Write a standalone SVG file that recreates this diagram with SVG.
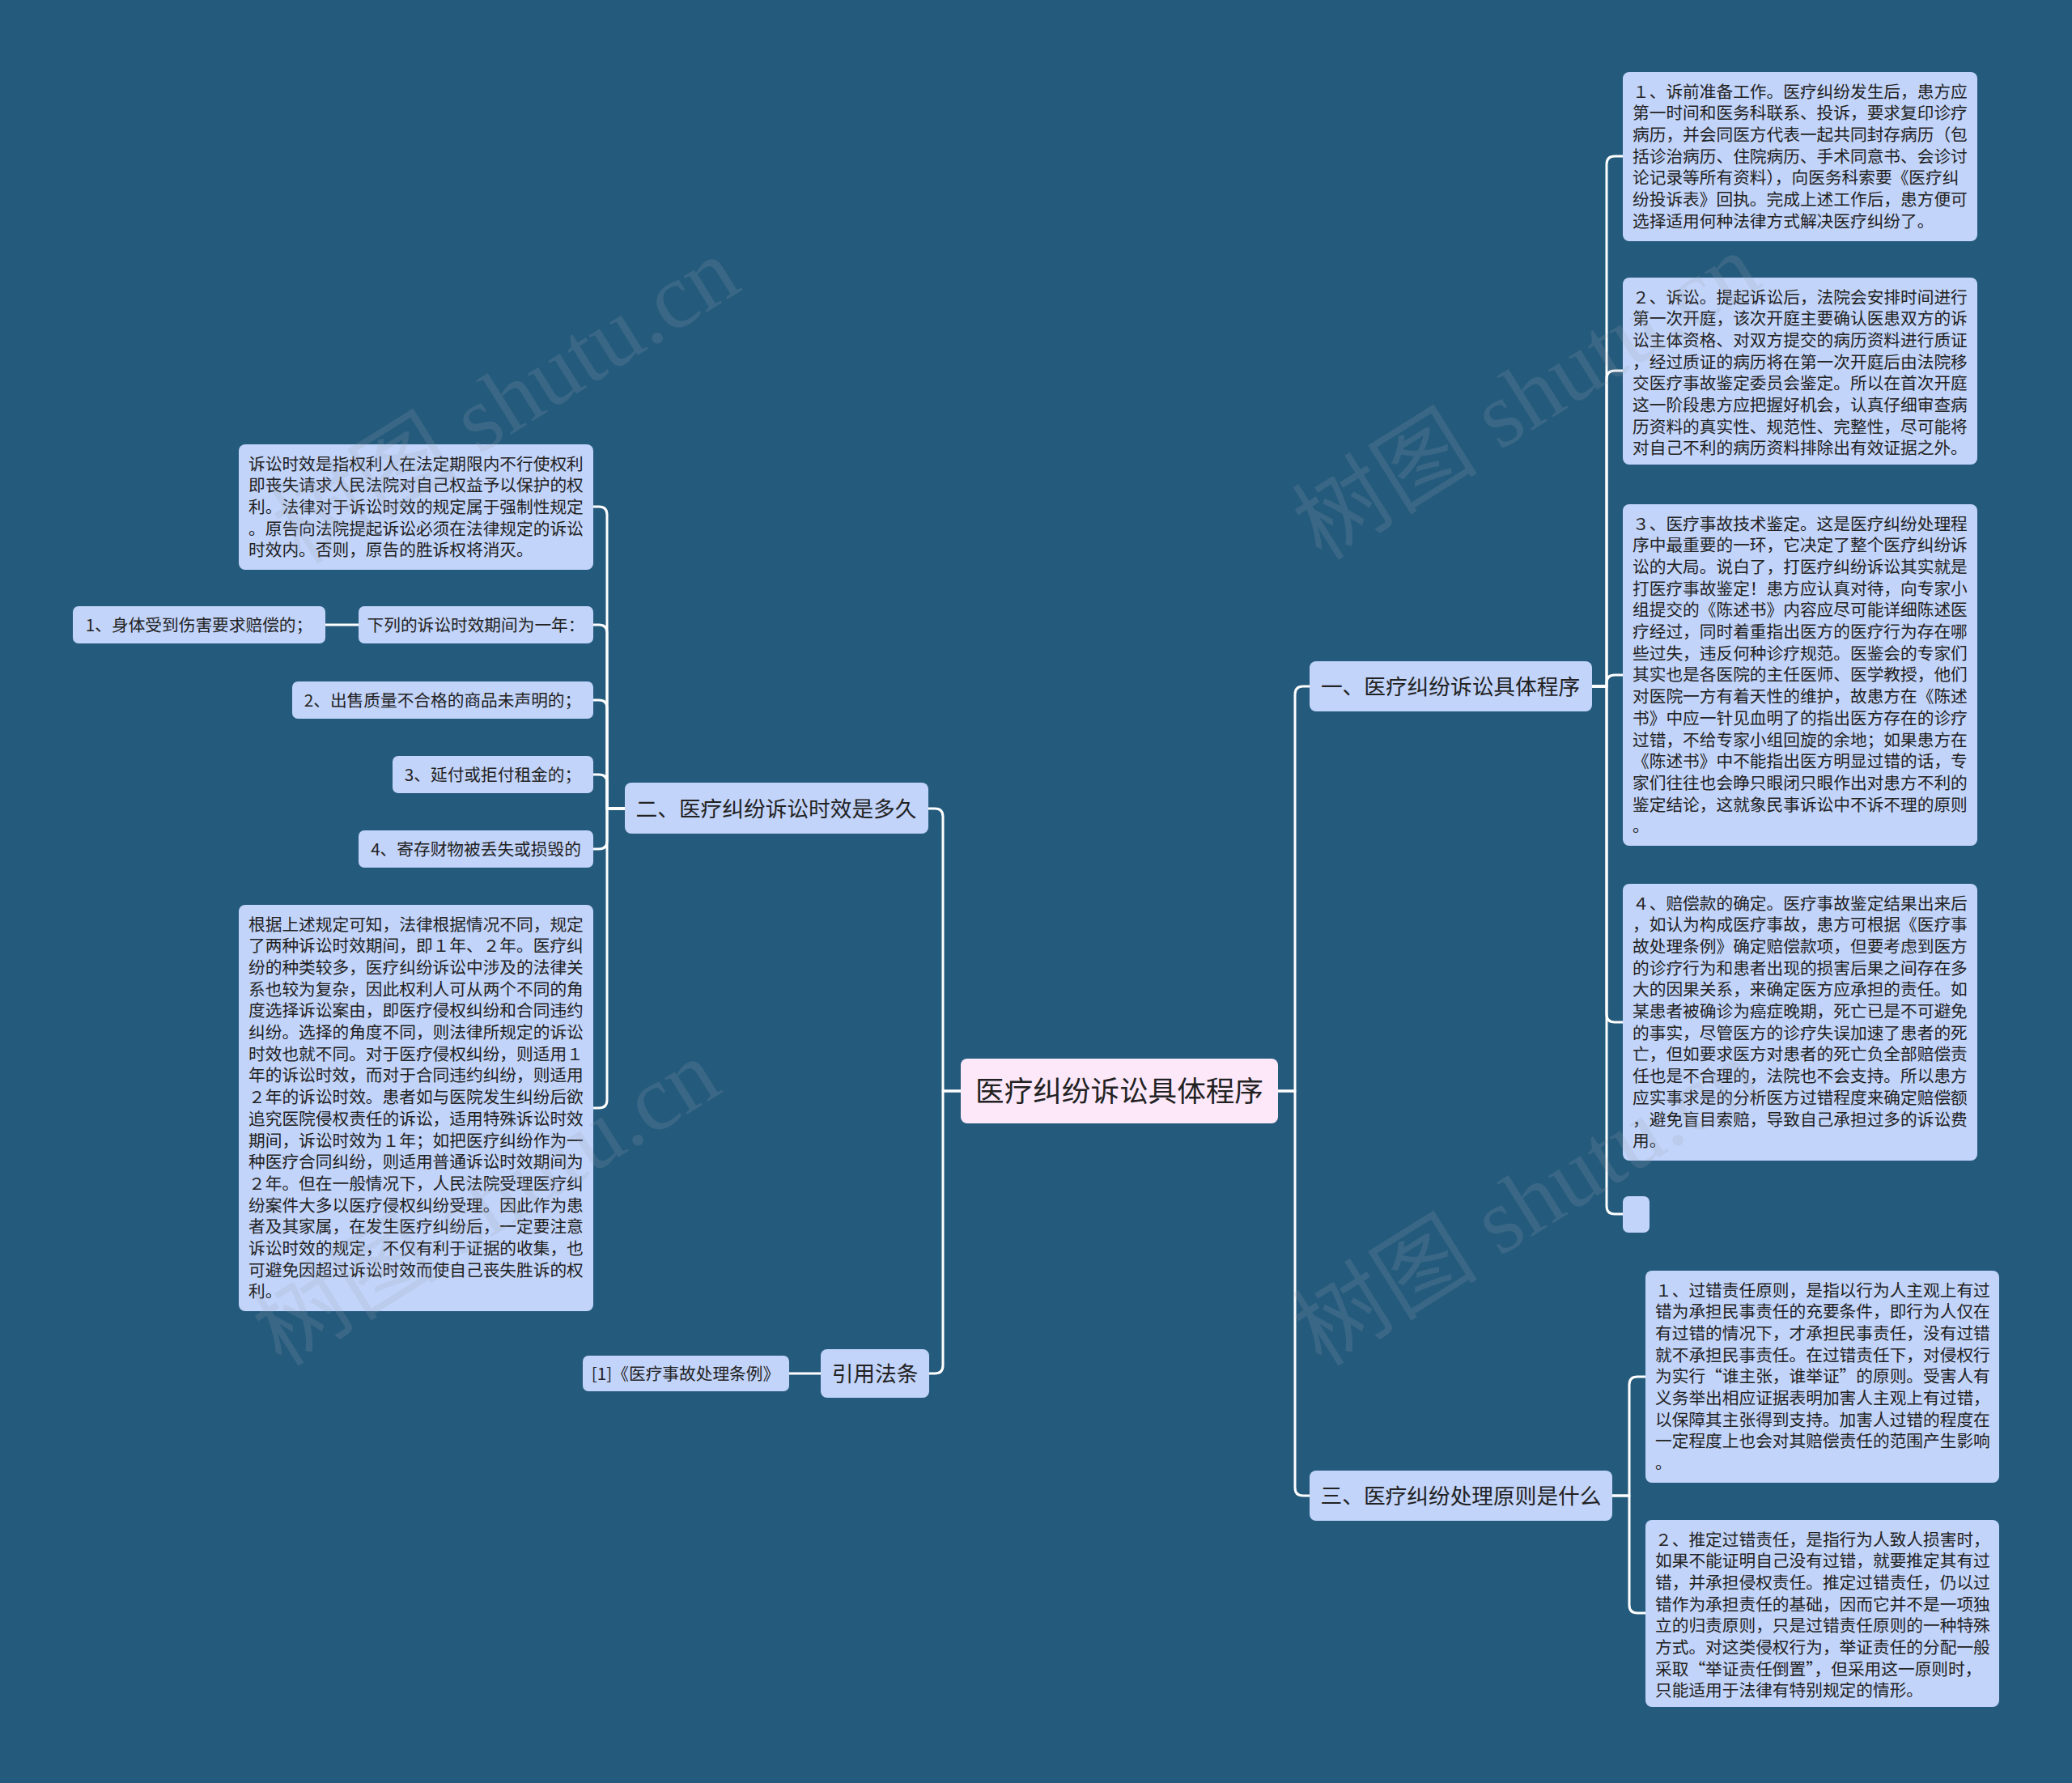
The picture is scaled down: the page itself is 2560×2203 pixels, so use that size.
<svg xmlns="http://www.w3.org/2000/svg" width="2560" height="2203" viewBox="0 0 2560 2203">
<style>
.bg{fill:#245a7c}
.n{fill:#c2d4fa}
.c{fill:#fde8fa}
.t{font-family:"Noto Sans CJK SC","Noto Sans",sans-serif;font-size:20.7px;fill:#222}
.tm{font-family:"Noto Sans CJK SC","Noto Sans",sans-serif;font-size:26.7px;fill:#222;text-anchor:middle}
.ts{font-family:"Noto Sans CJK SC","Noto Sans",sans-serif;font-size:20.7px;fill:#222;text-anchor:middle}
.tc{font-family:"Noto Sans CJK SC","Noto Sans",sans-serif;font-size:35.6px;fill:#222;text-anchor:middle}
.l{fill:none;stroke:#ffffff;stroke-width:3;stroke-linejoin:round}
.wm{font-family:"Liberation Serif","Noto Sans CJK SC",serif;font-size:115px;fill:#9aa4ae;opacity:0.18}
</style>
<rect class="bg" x="0" y="0" width="2560" height="2203"/>
<g id="connectors">
<path class="l" d="M1579,1348 H1600 V858 Q1600,848 1610,848 H1618"/>
<path class="l" d="M1579,1348 H1600 V1838 Q1600,1848 1610,1848 H1618"/>
<path class="l" d="M1187,1348 H1165 V1009 Q1165,999 1155,999 H1147"/>
<path class="l" d="M1187,1348 H1165 V1687 Q1165,1697 1155,1697 H1148"/>
<path class="l" d="M1967,848 H1985 V203 Q1985,193 1995,193 H2005"/>
<path class="l" d="M1967,848 H1985 V468 Q1985,458 1995,458 H2005"/>
<path class="l" d="M1967,848 H1985 V844 Q1985,834 1995,834 H2005"/>
<path class="l" d="M1967,848 H1985 V1253 Q1985,1263 1995,1263 H2005"/>
<path class="l" d="M1967,848 H1985 V1490 Q1985,1500 1995,1500 H2005"/>
<path class="l" d="M1992,1848 H2013 V1711 Q2013,1701 2023,1701 H2033"/>
<path class="l" d="M1992,1848 H2013 V1983 Q2013,1993 2023,1993 H2033"/>
<path class="l" d="M772,999 H750 V636 Q750,626 740,626 H733"/>
<path class="l" d="M772,999 H750 V782 Q750,772 740,772 H733"/>
<path class="l" d="M772,999 H750 V875 Q750,865 740,865 H733"/>
<path class="l" d="M772,999 H750 V967 Q750,957 740,957 H733"/>
<path class="l" d="M772,999 H750 V1039 Q750,1049 740,1049 H733"/>
<path class="l" d="M772,999 H750 V1359 Q750,1369 740,1369 H733"/>
<path class="l" d="M443,772 H402"/>
<path class="l" d="M1014,1697 H975"/>
</g>
<g id="center">
<rect class="c" x="1187" y="1308" width="392" height="80" rx="8"/>
<text class="tc" x="1383" y="1361">医疗纠纷诉讼具体程序</text>
</g>
<g id="b1">
<rect class="n" x="1618" y="817" width="349" height="62" rx="8"/>
<text class="tm" x="1792" y="858">一、医疗纠纷诉讼具体程序</text>
</g>
<g id="b3">
<rect class="n" x="1618" y="1817" width="374" height="62" rx="8"/>
<text class="tm" x="1805" y="1858">三、医疗纠纷处理原则是什么</text>
</g>
<g id="b2">
<rect class="n" x="772" y="967" width="375" height="63" rx="8"/>
<text class="tm" x="959" y="1009">二、医疗纠纷诉讼时效是多久</text>
</g>
<g id="b4">
<rect class="n" x="1014" y="1667" width="134" height="60" rx="8"/>
<text class="tm" x="1081" y="1707">引用法条</text>
</g>
<g id="cite">
<rect class="n" x="720" y="1675" width="255" height="44" rx="7"/>
<text class="ts" x="847" y="1705">[1]《医疗事故处理条例》</text>
</g>
<g id="r1">
<rect class="n" x="2005" y="89" width="438" height="209" rx="8"/>
<text class="t" x="2017" y="120.8">
<tspan x="2017" dy="0">１、诉前准备工作。医疗纠纷发生后，患方应</tspan>
<tspan x="2017" dy="26.67">第一时间和医务科联系、投诉，要求复印诊疗</tspan>
<tspan x="2017" dy="26.67">病历，并会同医方代表一起共同封存病历（包</tspan>
<tspan x="2017" dy="26.67">括诊治病历、住院病历、手术同意书、会诊讨</tspan>
<tspan x="2017" dy="26.67">论记录等所有资料），向医务科索要《医疗纠</tspan>
<tspan x="2017" dy="26.67">纷投诉表》回执。完成上述工作后，患方便可</tspan>
<tspan x="2017" dy="26.67">选择适用何种法律方式解决医疗纠纷了。</tspan>
</text>
</g>
<g id="r2">
<rect class="n" x="2005" y="343" width="438" height="231" rx="8"/>
<text class="t" x="2017" y="374.8">
<tspan x="2017" dy="0">２、诉讼。提起诉讼后，法院会安排时间进行</tspan>
<tspan x="2017" dy="26.67">第一次开庭，该次开庭主要确认医患双方的诉</tspan>
<tspan x="2017" dy="26.67">讼主体资格、对双方提交的病历资料进行质证</tspan>
<tspan x="2017" dy="26.67">，经过质证的病历将在第一次开庭后由法院移</tspan>
<tspan x="2017" dy="26.67">交医疗事故鉴定委员会鉴定。所以在首次开庭</tspan>
<tspan x="2017" dy="26.67">这一阶段患方应把握好机会，认真仔细审查病</tspan>
<tspan x="2017" dy="26.67">历资料的真实性、规范性、完整性，尽可能将</tspan>
<tspan x="2017" dy="26.67">对自己不利的病历资料排除出有效证据之外。</tspan>
</text>
</g>
<g id="r3">
<rect class="n" x="2005" y="623" width="438" height="422" rx="8"/>
<text class="t" x="2017" y="654.8">
<tspan x="2017" dy="0">３、医疗事故技术鉴定。这是医疗纠纷处理程</tspan>
<tspan x="2017" dy="26.67">序中最重要的一环，它决定了整个医疗纠纷诉</tspan>
<tspan x="2017" dy="26.67">讼的大局。说白了，打医疗纠纷诉讼其实就是</tspan>
<tspan x="2017" dy="26.67">打医疗事故鉴定！患方应认真对待，向专家小</tspan>
<tspan x="2017" dy="26.67">组提交的《陈述书》内容应尽可能详细陈述医</tspan>
<tspan x="2017" dy="26.67">疗经过，同时着重指出医方的医疗行为存在哪</tspan>
<tspan x="2017" dy="26.67">些过失，违反何种诊疗规范。医鉴会的专家们</tspan>
<tspan x="2017" dy="26.67">其实也是各医院的主任医师、医学教授，他们</tspan>
<tspan x="2017" dy="26.67">对医院一方有着天性的维护，故患方在《陈述</tspan>
<tspan x="2017" dy="26.67">书》中应一针见血明了的指出医方存在的诊疗</tspan>
<tspan x="2017" dy="26.67">过错，不给专家小组回旋的余地；如果患方在</tspan>
<tspan x="2017" dy="26.67">《陈述书》中不能指出医方明显过错的话，专</tspan>
<tspan x="2017" dy="26.67">家们往往也会睁只眼闭只眼作出对患方不利的</tspan>
<tspan x="2017" dy="26.67">鉴定结论，这就象民事诉讼中不诉不理的原则</tspan>
<tspan x="2017" dy="26.67">。</tspan>
</text>
</g>
<g id="r4">
<rect class="n" x="2005" y="1092" width="438" height="342" rx="8"/>
<text class="t" x="2017" y="1123.8">
<tspan x="2017" dy="0">４、赔偿款的确定。医疗事故鉴定结果出来后</tspan>
<tspan x="2017" dy="26.67">，如认为构成医疗事故，患方可根据《医疗事</tspan>
<tspan x="2017" dy="26.67">故处理条例》确定赔偿款项，但要考虑到医方</tspan>
<tspan x="2017" dy="26.67">的诊疗行为和患者出现的损害后果之间存在多</tspan>
<tspan x="2017" dy="26.67">大的因果关系，来确定医方应承担的责任。如</tspan>
<tspan x="2017" dy="26.67">某患者被确诊为癌症晚期，死亡已是不可避免</tspan>
<tspan x="2017" dy="26.67">的事实，尽管医方的诊疗失误加速了患者的死</tspan>
<tspan x="2017" dy="26.67">亡，但如要求医方对患者的死亡负全部赔偿责</tspan>
<tspan x="2017" dy="26.67">任也是不合理的，法院也不会支持。所以患方</tspan>
<tspan x="2017" dy="26.67">应实事求是的分析医方过错程度来确定赔偿额</tspan>
<tspan x="2017" dy="26.67">，避免盲目索赔，导致自己承担过多的诉讼费</tspan>
<tspan x="2017" dy="26.67">用。</tspan>
</text>
</g>
<g id="r5">
<rect class="n" x="2005" y="1478" width="33" height="45" rx="7"/>
</g>
<g id="r6">
<rect class="n" x="2033" y="1570" width="437" height="262" rx="8"/>
<text class="t" x="2045" y="1601.8">
<tspan x="2045" dy="0">１、过错责任原则，是指以行为人主观上有过</tspan>
<tspan x="2045" dy="26.67">错为承担民事责任的充要条件，即行为人仅在</tspan>
<tspan x="2045" dy="26.67">有过错的情况下，才承担民事责任，没有过错</tspan>
<tspan x="2045" dy="26.67">就不承担民事责任。在过错责任下，对侵权行</tspan>
<tspan x="2045" dy="26.67">为实行“谁主张，谁举证”的原则。受害人有</tspan>
<tspan x="2045" dy="26.67">义务举出相应证据表明加害人主观上有过错，</tspan>
<tspan x="2045" dy="26.67">以保障其主张得到支持。加害人过错的程度在</tspan>
<tspan x="2045" dy="26.67">一定程度上也会对其赔偿责任的范围产生影响</tspan>
<tspan x="2045" dy="26.67">。</tspan>
</text>
</g>
<g id="r7">
<rect class="n" x="2033" y="1878" width="437" height="231" rx="8"/>
<text class="t" x="2045" y="1909.8">
<tspan x="2045" dy="0">２、推定过错责任，是指行为人致人损害时，</tspan>
<tspan x="2045" dy="26.67">如果不能证明自己没有过错，就要推定其有过</tspan>
<tspan x="2045" dy="26.67">错，并承担侵权责任。推定过错责任，仍以过</tspan>
<tspan x="2045" dy="26.67">错作为承担责任的基础，因而它并不是一项独</tspan>
<tspan x="2045" dy="26.67">立的归责原则，只是过错责任原则的一种特殊</tspan>
<tspan x="2045" dy="26.67">方式。对这类侵权行为，举证责任的分配一般</tspan>
<tspan x="2045" dy="26.67">采取“举证责任倒置”，但采用这一原则时，</tspan>
<tspan x="2045" dy="26.67">只能适用于法律有特别规定的情形。</tspan>
</text>
</g>
<g id="l1">
<rect class="n" x="295" y="549" width="438" height="155" rx="8"/>
<text class="t" x="307" y="580.8">
<tspan x="307" dy="0">诉讼时效是指权利人在法定期限内不行使权利</tspan>
<tspan x="307" dy="26.67">即丧失请求人民法院对自己权益予以保护的权</tspan>
<tspan x="307" dy="26.67">利。法律对于诉讼时效的规定属于强制性规定</tspan>
<tspan x="307" dy="26.67">。原告向法院提起诉讼必须在法律规定的诉讼</tspan>
<tspan x="307" dy="26.67">时效内。否则，原告的胜诉权将消灭。</tspan>
</text>
</g>
<g id="l2">
<rect class="n" x="443" y="749" width="290" height="46" rx="7"/>
<text class="ts" x="588" y="779.5">下列的诉讼时效期间为一年：</text>
</g>
<g id="l2a">
<rect class="n" x="90" y="749" width="312" height="46" rx="7"/>
<text class="ts" x="246" y="779.5">1、身体受到伤害要求赔偿的；</text>
</g>
<g id="l3">
<rect class="n" x="361" y="842" width="372" height="46" rx="7"/>
<text class="ts" x="547" y="872.5">2、出售质量不合格的商品未声明的；</text>
</g>
<g id="l4">
<rect class="n" x="485" y="934" width="248" height="46" rx="7"/>
<text class="ts" x="609" y="964.5">3、延付或拒付租金的；</text>
</g>
<g id="l5">
<rect class="n" x="443" y="1026" width="290" height="46" rx="7"/>
<text class="ts" x="588" y="1056.5">4、寄存财物被丢失或损毁的</text>
</g>
<g id="l6">
<rect class="n" x="295" y="1118" width="438" height="502" rx="8"/>
<text class="t" x="307" y="1149.8">
<tspan x="307" dy="0">根据上述规定可知，法律根据情况不同，规定</tspan>
<tspan x="307" dy="26.67">了两种诉讼时效期间，即１年、２年。医疗纠</tspan>
<tspan x="307" dy="26.67">纷的种类较多，医疗纠纷诉讼中涉及的法律关</tspan>
<tspan x="307" dy="26.67">系也较为复杂，因此权利人可从两个不同的角</tspan>
<tspan x="307" dy="26.67">度选择诉讼案由，即医疗侵权纠纷和合同违约</tspan>
<tspan x="307" dy="26.67">纠纷。选择的角度不同，则法律所规定的诉讼</tspan>
<tspan x="307" dy="26.67">时效也就不同。对于医疗侵权纠纷，则适用１</tspan>
<tspan x="307" dy="26.67">年的诉讼时效，而对于合同违约纠纷，则适用</tspan>
<tspan x="307" dy="26.67">２年的诉讼时效。患者如与医院发生纠纷后欲</tspan>
<tspan x="307" dy="26.67">追究医院侵权责任的诉讼，适用特殊诉讼时效</tspan>
<tspan x="307" dy="26.67">期间，诉讼时效为１年；如把医疗纠纷作为一</tspan>
<tspan x="307" dy="26.67">种医疗合同纠纷，则适用普通诉讼时效期间为</tspan>
<tspan x="307" dy="26.67">２年。但在一般情况下，人民法院受理医疗纠</tspan>
<tspan x="307" dy="26.67">纷案件大多以医疗侵权纠纷受理。因此作为患</tspan>
<tspan x="307" dy="26.67">者及其家属，在发生医疗纠纷后，一定要注意</tspan>
<tspan x="307" dy="26.67">诉讼时效的规定，不仅有利于证据的收集，也</tspan>
<tspan x="307" dy="26.67">可避免因超过诉讼时效而使自己丧失胜诉的权</tspan>
<tspan x="307" dy="26.67">利。</tspan>
</text>
</g>
<g id="watermarks">
<text class="wm" transform="translate(372,699) rotate(-32)">树图 shutu.cn</text>
<text class="wm" transform="translate(1633,694) rotate(-32)">树图 shutu.cn</text>
<text class="wm" transform="translate(348,1690) rotate(-32)">树图 shutu.cn</text>
<text class="wm" transform="translate(1633,1690) rotate(-32)">树图 shutu.cn</text>
</g>
</svg>
